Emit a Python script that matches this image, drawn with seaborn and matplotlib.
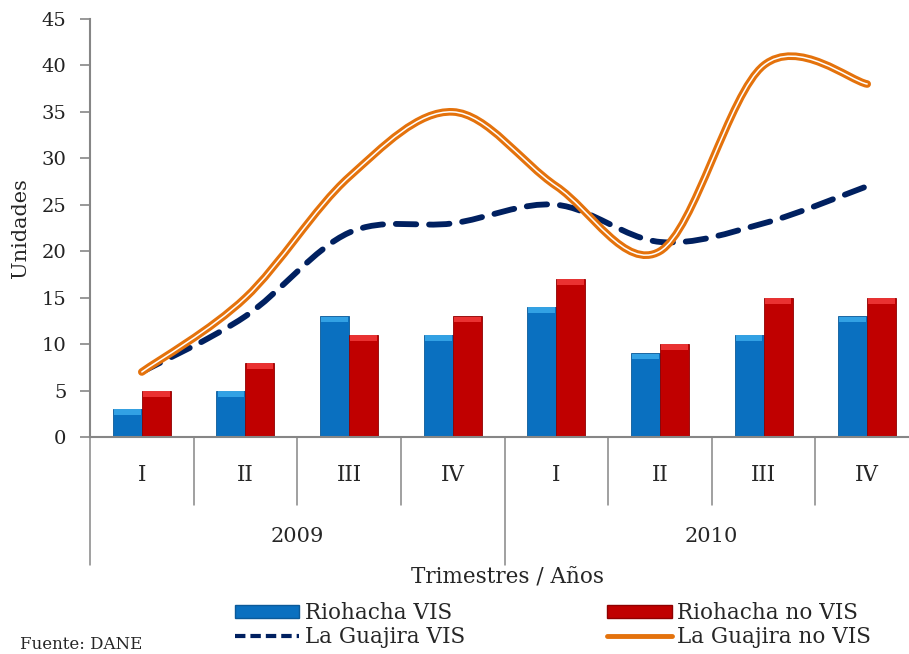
import numpy as np
import pandas as pd
import matplotlib
matplotlib.use("Agg")
import matplotlib.pyplot as plt
import seaborn as sns
from matplotlib.path import Path
from matplotlib.patches import PathPatch, Patch, Rectangle
from matplotlib.lines import Line2D

# =====================================================
# DATA
# =====================================================

quarters = ["I", "II", "III", "IV", "I", "II", "III", "IV"]
years = ["2009", "2010"]
riohacha_vis = [3, 5, 13, 11, 14, 9, 11, 13]
riohacha_no_vis = [5, 8, 11, 13, 17, 10, 15, 15]
guajira_vis = [7, 13, 22, 23, 25, 21, 23, 27]
guajira_no_vis = [7, 15, 28, 35, 27, 20, 40, 38]

BLUE = "#0A70C0"
BLUE_TOP = "#3AAAEB"
BLUE_EDGE = "#0B5A99"
RED = "#C00000"
RED_TOP = "#F23A3A"
RED_EDGE = "#8E0000"
NAVY = "#002060"
ORANGE = "#E4720C"
GREY = "#868686"

bars = pd.DataFrame({
    "pos": list(range(8)) * 2,
    "value": riohacha_vis + riohacha_no_vis,
    "serie": ["Riohacha VIS"] * 8 + ["Riohacha no VIS"] * 8,
})

# =====================================================
# FIGURE
# =====================================================

sns.set_theme(style="white")
plt.rcParams["font.family"] = ["DejaVu Serif"]

fig = plt.figure(figsize=(9.09, 6.54), dpi=100)
ax = fig.add_axes([90 / 909, 1 - 437 / 654, 829 / 909, 418 / 654])

sns.barplot(data=bars, x="pos", y="value", hue="serie", order=list(range(8)),
            palette=[BLUE, RED], width=0.56, gap=0, saturation=1,
            edgecolor="none", legend=False, ax=ax)

# lighter band on top of each bar, like the excel 3d style
for bar in list(ax.patches):
    is_blue = matplotlib.colors.to_hex(bar.get_facecolor()) == BLUE.lower()
    top = BLUE_TOP if is_blue else RED_TOP
    edge = BLUE_EDGE if is_blue else RED_EDGE
    bar.set_edgecolor(edge)
    bar.set_linewidth(0.6)
    ax.add_patch(Rectangle((bar.get_x() + bar.get_width() * 0.04, bar.get_height() - 0.65),
                           bar.get_width() * 0.92, 0.62, facecolor=top,
                           edgecolor="none", alpha=0.85, zorder=3))


def smooth_path(xs, ys):
    # Excel-style smoothed line: bezier segments through every point
    p = np.column_stack([xs, ys]).astype(float)
    verts = [p[0]]
    codes = [Path.MOVETO]
    n = len(p)
    for i in range(n - 1):
        p0 = p[i - 1] if i > 0 else p[i]
        p3 = p[i + 2] if i + 2 < n else p[i + 1]
        c1 = p[i] + (p[i + 1] - p0) / 6
        c2 = p[i + 1] - (p3 - p[i]) / 6
        verts += [c1, c2, p[i + 1]]
        codes += [Path.CURVE4] * 3
    return Path(verts, codes)


xs = np.arange(8)
ax.add_patch(PathPatch(smooth_path(xs, guajira_vis), fill=False, edgecolor=NAVY,
                       lw=4.2, linestyle=(0, (3.5, 2.2)), capstyle="round", zorder=4))
ax.add_patch(PathPatch(smooth_path(xs, guajira_no_vis), fill=False, edgecolor=ORANGE,
                       lw=5.5, capstyle="round", zorder=5))
ax.add_patch(PathPatch(smooth_path(xs, guajira_no_vis), fill=False, edgecolor="white",
                       lw=1.1, capstyle="round", zorder=6))

ax.set_xlim(-0.5, 7.5)
ax.set_ylim(0, 45)
ax.set_yticks(range(0, 46, 5))
ax.tick_params(axis="y", left=True, length=7, width=1.2, color=GREY, labelsize=14,
               labelcolor="#222222", pad=10)
ax.set_xticks([])
ax.set_xlabel("")
ax.set_ylabel("Unidades", fontsize=15, labelpad=8)
for s in ["top", "right"]:
    ax.spines[s].set_visible(False)
for s in ["left", "bottom"]:
    ax.spines[s].set_color(GREY)
    ax.spines[s].set_linewidth(1.5)

# multi-level category axis
trans = ax.get_xaxis_transform()
h = 418
for b in np.arange(-0.5, 8, 1):
    depth = 128 if b in (-0.5, 3.5, 7.5) else 68
    ax.plot([b, b], [0, -depth / h], transform=trans, color=GREY, lw=1.1,
            clip_on=False)
for i, q in enumerate(quarters):
    ax.text(i, -38 / h, q, transform=trans, ha="center", va="center", fontsize=15.5)
for j, yr in enumerate(years):
    ax.text(1.5 + 4 * j, -100 / h, yr, transform=trans, ha="center", va="center",
            fontsize=15)

fig.text(508 / 909, 1 - 578 / 654, "Trimestres / Años", ha="center", va="center",
         fontsize=15.5)

handles = [
    Patch(facecolor=BLUE, edgecolor=BLUE_EDGE),
    Line2D([], [], color=NAVY, lw=3, linestyle=(0, (2.5, 1.2))),
    Patch(facecolor=RED, edgecolor=RED_EDGE),
    Line2D([], [], color=ORANGE, lw=3.5),
]
labels = ["Riohacha VIS", "La Guajira VIS", "Riohacha no VIS", "La Guajira no VIS"]
fig.legend(handles, labels, ncol=2, loc="center left",
           bbox_to_anchor=(224 / 909, 1 - 625 / 654), frameon=False, fontsize=15.5,
           handlelength=3.0, handleheight=0.6, handletextpad=0.25,
           columnspacing=6.6, labelspacing=0.1, borderpad=0)

fig.text(20 / 909, 1 / 654, "Fuente: DANE", fontsize=12, va="bottom")

fig.savefig("out.png", dpi=100)
